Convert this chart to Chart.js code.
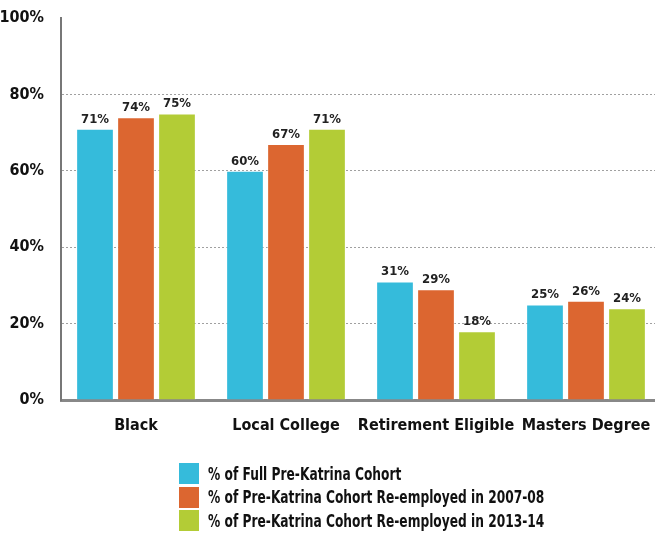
<!DOCTYPE html>
<html>
<head>
<meta charset="utf-8">
<script src="https://cdn.jsdelivr.net/npm/chart.js@4"></script>
<style>
  body { margin: 0; background: #fff; }
  #wrap { position: relative; width: 655px; height: 535px; overflow: hidden; }
  #legend { position: absolute; left: 179px; top: 462px; font: bold 17px 'DejaVu Sans Condensed', sans-serif; color: #111; }
  #legend div { display: flex; align-items: center; height: 23.5px; }
  #legend span.box { width: 20px; height: 21px; margin-right: 9px; display: inline-block; flex: none; }
  #legend span.txt { display: inline-block; transform: scaleX(0.8); transform-origin: left center; white-space: nowrap; }
</style>
</head>
<body>
<div id="wrap">
  <canvas id="katrinaChart" width="661" height="535"></canvas>
  <div id="legend"></div>
</div>
<script>
const categories = ['Black', 'Local College', 'Retirement Eligible', 'Masters Degree'];
const fullCohort = [71, 60, 31, 25];
const reemployed0708 = [74, 67, 29, 26];
const reemployed1314 = [75, 71, 18, 24];
const yTicks = [0, 20, 40, 60, 80, 100];

const fontFamily = "'DejaVu Sans Condensed', sans-serif";
Chart.defaults.font.family = fontFamily;
Chart.defaults.font.weight = 'bold';
Chart.defaults.color = '#111';

// draws the value above every bar
const barValues = {
    id: 'barValues',
    afterDatasetsDraw(chart){
        const ctx = chart.ctx;
        ctx.save();
        ctx.font = 'bold 13px ' + fontFamily;
        ctx.fillStyle = '#222';
        ctx.textAlign = 'center';
        ctx.textBaseline = 'bottom';
        chart.data.datasets.forEach((ds, i) => {
            chart.getDatasetMeta(i).data.forEach((bar, j) => {
                ctx.fillText(ds.data[j] + '%', bar.x, bar.y - 3);
            });
        });
        ctx.restore();
    }
};

const chart = new Chart(document.getElementById('katrinaChart'), {
    type: 'bar',
    data: {
        labels: categories,
        datasets: [{
            label: '% of Full Pre-Katrina Cohort',
            data: fullCohort,
            backgroundColor: '#35bbdb'
        }, {
            label: '% of Pre-Katrina Cohort Re-employed in 2007-08',
            data: reemployed0708,
            backgroundColor: '#dc6630'
        }, {
            label: '% of Pre-Katrina Cohort Re-employed in 2013-14',
            data: reemployed1314,
            backgroundColor: '#b3cc36'
        }]
    },
    options: {
        responsive: false,
        animation: false,
        layout: { padding: { top: 18, right: 0, bottom: 100, left: 0 } },
        datasets: {
            bar: {
                categoryPercentage: 0.82,
                barPercentage: 0.92,
                borderWidth: 1,
                borderColor: 'rgba(255,255,255,0.45)'
            }
        },
        plugins: {
            legend: { display: false },
            tooltip: { enabled: false }
        },
        scales: {
            x: {
                grid: { display: false, drawTicks: false },
                border: { color: '#888', width: 3 },
                ticks: { padding: 16, font: { size: 16 }, maxRotation: 0, minRotation: 0, autoSkip: false },
                afterFit(scale){ scale.height = 35; scale.paddingLeft = 0; scale.paddingRight = 0; }
            },
            y: {
                min: 0,
                max: 100,
                afterBuildTicks(scale){
                    scale.ticks = yTicks.map(v => ({ value: v }));
                },
                ticks: {
                    padding: 17,
                    font: { size: 16 },
                    callback: v => v + '%'
                },
                grid: {
                    drawTicks: false,
                    color: ctx => (ctx.tick.value === 0 || ctx.tick.value === 100) ? 'rgba(0,0,0,0)' : '#a0a0a0',
                    lineWidth: 1
                },
                border: { color: '#777', width: 2, dash: [2, 2] },
                afterFit(scale){ scale.width = 61; scale.paddingTop = 0; scale.paddingBottom = 0; }
            }
        }
    },
    plugins: [barValues]
});

// legend one item per row, built from the datasets
const legendBox = document.getElementById('legend');
chart.data.datasets.forEach(ds => {
    const row = document.createElement('div');
    const box = document.createElement('span');
    box.className = 'box';
    box.style.background = ds.backgroundColor;
    const txt = document.createElement('span');
    txt.className = 'txt';
    txt.textContent = ds.label;
    row.appendChild(box);
    row.appendChild(txt);
    legendBox.appendChild(row);
});
</script>
</body>
</html>
